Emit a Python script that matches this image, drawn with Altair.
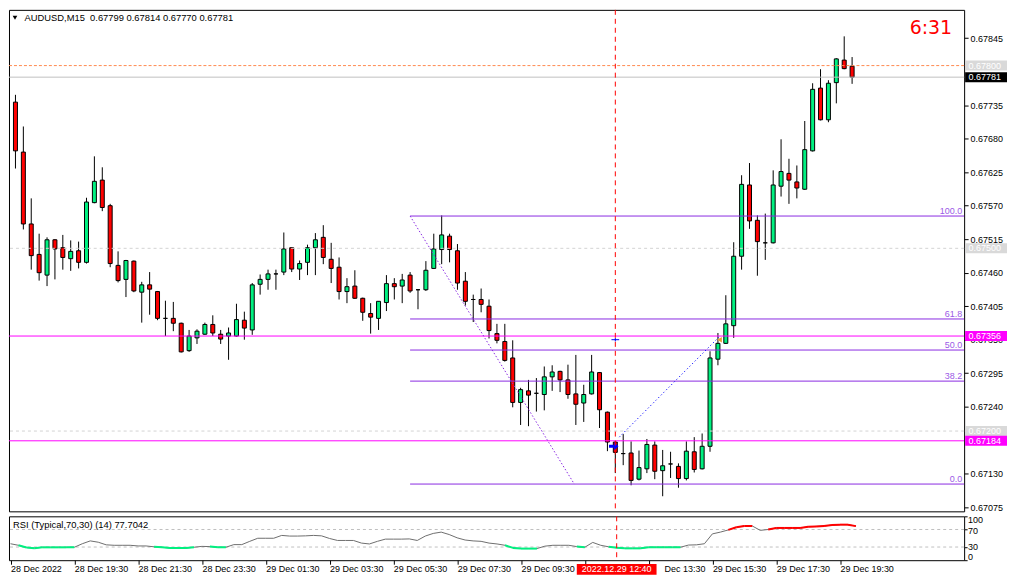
import json
import altair as alt
import pandas as pd

# ---------------- data ----------------
symbol = "AUDUSD,M15"
timer_text = "6:31"
rsi_title = "RSI (Typical,70,30) (14) 77.7042"
cursor_label = "2022.12.29 12:40"

opens = [0.67740, 0.67658, 0.67540, 0.67490, 0.67456, 0.67514, 0.67501, 0.67483, 0.67496, 0.67477,
         0.67575, 0.67612, 0.67570, 0.67472, 0.67449, 0.67479, 0.67428, 0.67440, 0.67429, 0.67385,
         0.67385, 0.67377, 0.67332, 0.67353, 0.67359, 0.67375, 0.67359, 0.67356, 0.67356, 0.67382,
         0.67366, 0.67441, 0.67449, 0.67458, 0.67461, 0.67501, 0.67466, 0.67477, 0.67501, 0.67518,
         0.67482, 0.67469, 0.67429, 0.67438, 0.67418, 0.67393, 0.67385, 0.67411, 0.67442, 0.67438,
         0.67456, 0.67432, 0.67432, 0.67467, 0.67498, 0.67520, 0.67496, 0.67446, 0.67416, 0.67416,
         0.67405, 0.67360, 0.67347, 0.67320, 0.67247, 0.67266, 0.67262, 0.67260, 0.67289, 0.67298,
         0.67284, 0.67261, 0.67246, 0.67261, 0.67296, 0.67231, 0.67182, 0.67163, 0.67164, 0.67121,
         0.67138, 0.67177, 0.67135, 0.67146, 0.67142, 0.67122, 0.67166, 0.67138, 0.67175, 0.67318,
         0.67344, 0.67373, 0.67487, 0.67604, 0.67546, 0.67509, 0.67509, 0.67602, 0.67623, 0.67609,
         0.67597, 0.67660, 0.67763, 0.67711, 0.67772, 0.67809, 0.67799]
highs = [0.67752, 0.67700, 0.67582, 0.67524, 0.67518, 0.67515, 0.67522, 0.67513, 0.67511, 0.67583,
         0.67651, 0.67633, 0.67573, 0.67495, 0.67481, 0.67480, 0.67445, 0.67461, 0.67430, 0.67414,
         0.67412, 0.67378, 0.67366, 0.67367, 0.67378, 0.67390, 0.67366, 0.67370, 0.67409, 0.67396,
         0.67443, 0.67457, 0.67465, 0.67465, 0.67526, 0.67502, 0.67480, 0.67506, 0.67525, 0.67538,
         0.67509, 0.67485, 0.67451, 0.67464, 0.67419, 0.67410, 0.67413, 0.67456, 0.67451, 0.67458,
         0.67461, 0.67433, 0.67479, 0.67524, 0.67554, 0.67524, 0.67507, 0.67461, 0.67424, 0.67434,
         0.67416, 0.67376, 0.67376, 0.67349, 0.67271, 0.67284, 0.67287, 0.67306, 0.67308, 0.67299,
         0.67309, 0.67325, 0.67276, 0.67325, 0.67297, 0.67232, 0.67183, 0.67195, 0.67183, 0.67168,
         0.67187, 0.67183, 0.67169, 0.67166, 0.67147, 0.67183, 0.67190, 0.67196, 0.67331, 0.67361,
         0.67423, 0.67510, 0.67620, 0.67640, 0.67554, 0.67557, 0.67628, 0.67679, 0.67647, 0.67636,
         0.67709, 0.67771, 0.67794, 0.67776, 0.67812, 0.67848, 0.67814]
lows = [0.67631, 0.67531, 0.67465, 0.67447, 0.67438, 0.67449, 0.67465, 0.67463, 0.67467, 0.67475,
        0.67574, 0.67561, 0.67469, 0.67444, 0.67420, 0.67428, 0.67378, 0.67391, 0.67382, 0.67356,
        0.67364, 0.67329, 0.67330, 0.67343, 0.67358, 0.67356, 0.67343, 0.67317, 0.67355, 0.67350,
        0.67358, 0.67424, 0.67432, 0.67432, 0.67456, 0.67461, 0.67448, 0.67456, 0.67456, 0.67474,
        0.67443, 0.67416, 0.67410, 0.67417, 0.67381, 0.67360, 0.67366, 0.67397, 0.67416, 0.67410,
        0.67427, 0.67400, 0.67430, 0.67466, 0.67474, 0.67477, 0.67432, 0.67406, 0.67379, 0.67395,
        0.67352, 0.67344, 0.67314, 0.67239, 0.67210, 0.67208, 0.67232, 0.67234, 0.67266, 0.67264,
        0.67253, 0.67210, 0.67215, 0.67260, 0.67205, 0.67167, 0.67131, 0.67144, 0.67111, 0.67119,
        0.67131, 0.67121, 0.67093, 0.67123, 0.67107, 0.67119, 0.67132, 0.67137, 0.67166, 0.67308,
        0.67343, 0.67353, 0.67465, 0.67532, 0.67455, 0.67481, 0.67508, 0.67585, 0.67573, 0.67582,
        0.67596, 0.67659, 0.67710, 0.67707, 0.67738, 0.67794, 0.67770]
closes = [0.67660, 0.67540, 0.67488, 0.67460, 0.67514, 0.67499, 0.67485, 0.67495, 0.67477, 0.67576,
          0.67610, 0.67567, 0.67475, 0.67447, 0.67480, 0.67430, 0.67440, 0.67433, 0.67385, 0.67385,
          0.67377, 0.67330, 0.67356, 0.67364, 0.67375, 0.67361, 0.67351, 0.67361, 0.67383, 0.67369,
          0.67440, 0.67449, 0.67458, 0.67458, 0.67499, 0.67466, 0.67475, 0.67501, 0.67514, 0.67485,
          0.67467, 0.67429, 0.67437, 0.67418, 0.67395, 0.67387, 0.67413, 0.67442, 0.67437, 0.67448,
          0.67430, 0.67432, 0.67464, 0.67499, 0.67522, 0.67498, 0.67443, 0.67413, 0.67416, 0.67408,
          0.67365, 0.67349, 0.67316, 0.67247, 0.67268, 0.67259, 0.67262, 0.67289, 0.67297, 0.67284,
          0.67260, 0.67244, 0.67260, 0.67297, 0.67235, 0.67182, 0.67165, 0.67163, 0.67119, 0.67140,
          0.67178, 0.67134, 0.67143, 0.67146, 0.67122, 0.67167, 0.67137, 0.67175, 0.67320, 0.67344,
          0.67376, 0.67487, 0.67605, 0.67545, 0.67511, 0.67509, 0.67604, 0.67626, 0.67612, 0.67599,
          0.67662, 0.67761, 0.67711, 0.67771, 0.67811, 0.67795, 0.67781]

rsi_values = [37.5, 34, 29, 27.5, 29.3, 29.3, 29.3, 29.3, 29.5, 37.5,
              44, 41, 35, 34, 34, 34, 32.5, 32.5, 30.5, 29.5,
              27.8, 27.8, 27.8, 29.5, 31.5, 31, 29.5, 29.5, 35.5, 35.5,
              43, 50, 50, 50, 56.5, 55, 55, 55.5, 56.5, 55.5,
              49.5, 45, 45, 45, 39, 37, 43, 48, 48, 48,
              48.5, 45, 55, 61, 64, 58.5, 51, 46, 44, 43,
              39, 37, 34, 28, 26.5, 26.5, 26.5, 32, 34, 34,
              34, 31, 29.5, 40.5, 34, 30.5, 28.5, 27, 27, 27,
              29.5, 29.5, 29.5, 29.5, 29.5, 34.5, 35, 37.5, 60, 64,
              69, 75, 78, 78, 68, 70, 73.5, 73.5, 73.5, 73.5,
              76, 77, 78, 80, 81, 81, 77.7042]

# time labels as visible (the 11:30 one is hidden by the cursor box, 13:30 is partly hidden)
time_labels = ["28 Dec 2022", "28 Dec 19:30", "28 Dec 21:30", "28 Dec 23:30", "29 Dec 01:30",
               "29 Dec 03:30", "29 Dec 05:30", "29 Dec 07:30", "29 Dec 09:30", "",
               "", "29 Dec 15:30", "29 Dec 17:30", "29 Dec 19:30"]
partial_label = "Dec 13:30"
partial_label_bar = 80
price_ticks = [0.67075, 0.67130, 0.67240, 0.67295, 0.67350, 0.67405, 0.67460,
               0.67515, 0.67570, 0.67625, 0.67680, 0.67735, 0.67845]
rsi_ticks = [0, 30, 70, 100]

level_prices = [0.67800, 0.67781, 0.67500, 0.67200, 0.67356, 0.67184]
level_styles = ["ask", "bid", "grid", "grid", "mag", "mag"]
box_colors = ["#D9D9D9", "#000000", "#D9D9D9", "#D9D9D9", "#FF00FF", "#FF00FF"]

fib_levels = [100.0, 61.8, 50.0, 38.2, 0.0]
fib_prices = [0.67553, 0.67384, 0.67333, 0.67282, 0.67113]
fib_start = 50
fib_diag_x = [50, 70.8]
fib_diag_p = [0.67553, 0.67113]
trend_x = [76.5, 89.1]
trend_p = [0.67190, 0.67354]
cursor_bar = 76
arrow_bar, arrow_price = 75.8, 0.67175
stop_bar, stop_price = 76, 0.67350
tri_bar, tri_price = 89.2, 0.67350

# ---------------- layout / style ----------------
n = len(opens)
W, H, RH = 958, 503, 44
FONT = "Liberation Sans"
GREEN = "#00F080"
RED = "#FF0000"
FIB = "#8A2BE2"

xs = alt.Scale(domain=[-0.1875, (W - 1.5) / 8], nice=False, zero=False)
ys = alt.Scale(domain=[0.670682, 0.678915], nice=False, zero=False)
rs = alt.Scale(domain=[0, 100], nice=False, zero=False)

price_axis = alt.Axis(orient="right", values=price_ticks, format=".5f", tickSize=4,
                      tickColor="black", labelPadding=2, labelFont=FONT, labelFontSize=9,
                      labelColor="black", domain=False, grid=False, title=None,
                      labelOverlap=False)
time_axis = alt.Axis(orient="bottom", values=list(range(0, n, 8)),
                     labelExpr=json.dumps(time_labels) + "[round(datum.value / 8)]",
                     labelAlign="left", labelBaseline="top", tickSize=4, tickColor="black",
                     labelPadding=0, labelFont=FONT, labelFontSize=9, labelColor="black",
                     domain=False, grid=False, title=None, labelOverlap=False, labelFlush=False)
rsi_axis = alt.Axis(orient="right", values=rsi_ticks, labels=False, tickSize=3,
                    tickColor="black", domain=False, grid=False, title=None)


def X(field="i"):
    return alt.X(f"{field}:Q", scale=xs, axis=None)


def Y(field="p"):
    return alt.Y(f"{field}:Q", scale=ys, axis=price_axis)


def XR(field="i"):
    return alt.X(f"{field}:Q", scale=xs, axis=time_axis)


def YR(field="v"):
    return alt.Y(f"{field}:Q", scale=rs, axis=rsi_axis)


def txt(text, x, y, **kw):
    return alt.Chart(pd.DataFrame({"t": [text]})).mark_text(**kw).encode(
        x=alt.value(x), y=alt.value(y), text="t:N")


cand = pd.DataFrame({"i": list(range(n)), "o": opens, "h": highs, "l": lows, "c": closes})
cand["dir"] = ["up" if c > o else ("down" if c < o else "flat") for o, c in zip(opens, closes)]

wicks = alt.Chart(cand).mark_rule(color="black", strokeWidth=1, clip=True).encode(
    x=X(), y=Y("l"), y2="h:Q")
bodies = alt.Chart(cand).mark_bar(size=4, stroke="black", strokeWidth=1, clip=True).encode(
    x=X(), y=Y("o"), y2="c:Q",
    color=alt.Color("dir:N", scale=alt.Scale(domain=["up", "down", "flat"],
                                             range=[GREEN, RED, "black"]), legend=None))

lv = pd.DataFrame({"p": level_prices, "style": level_styles, "box": box_colors})
ask_line = alt.Chart(lv).transform_filter(alt.datum.style == "ask").mark_rule(
    color="#FF8A50", strokeWidth=1, strokeDash=[3, 2]).encode(y=Y())
bid_line = alt.Chart(lv).transform_filter(alt.datum.style == "bid").mark_rule(
    color="#C0C0C0", strokeWidth=1).encode(y=Y())
grid_line = alt.Chart(lv).transform_filter(alt.datum.style == "grid").mark_rule(
    color="#D3D3D3", strokeWidth=1, strokeDash=[3, 3]).encode(y=Y())
mag_line = alt.Chart(lv).transform_filter(alt.datum.style == "mag").mark_rule(
    color="#FF00FF", strokeWidth=1).encode(y=Y())

fib = pd.DataFrame({"lvl": fib_levels, "p": fib_prices, "x0": [fib_start] * len(fib_levels)})
fib_lines = alt.Chart(fib).mark_rule(color=FIB, strokeWidth=1).encode(
    x=X("x0"), x2=alt.value(W), y=Y())
fib_text = alt.Chart(fib).mark_text(align="right", baseline="alphabetic", dy=-2, font=FONT,
                                    fontSize=9, color="#9B59E6").encode(
    x=alt.value(W - 2), y=Y(), text=alt.Text("lvl:Q", format=".1f"))
diag_line = alt.Chart(pd.DataFrame({"i": fib_diag_x, "p": fib_diag_p})).mark_line(
    color=FIB, strokeWidth=1, strokeDash=[1.5, 2]).encode(x=X(), y=Y())
trend_line = alt.Chart(pd.DataFrame({"i": trend_x, "p": trend_p})).mark_line(
    color="#0000FF", strokeWidth=1, strokeDash=[1.2, 2.5]).encode(x=X(), y=Y())

ARROW = "M-1,-0.3L0.1,-0.3L0.1,-0.9L1,0L0.1,0.9L0.1,0.3L-1,0.3Z"
arrow = alt.Chart(pd.DataFrame({"i": [arrow_bar], "p": [arrow_price]})).mark_point(
    shape=ARROW, size=90, filled=True, color="#0000FF", opacity=1, strokeWidth=0).encode(
    x=X(), y=Y())
stop_mark = alt.Chart(pd.DataFrame({"i": [stop_bar], "p": [stop_price]})).mark_point(
    shape="M-1,0L1,0M0,-0.45L0,0.45", size=60, filled=False, color="#0000FF", opacity=1,
    strokeWidth=1).encode(x=X(), y=Y())
tri_mark = alt.Chart(pd.DataFrame({"i": [tri_bar], "p": [tri_price]})).mark_point(
    shape="triangle-left", size=30, filled=True, color="#F0A030", opacity=1).encode(
    x=X(), y=Y())

cursor_main = alt.Chart(pd.DataFrame({"i": [cursor_bar]})).mark_rule(
    color=RED, strokeWidth=1, strokeDash=[5, 4]).encode(x=X())

BOX = "M-1,-0.238L1,-0.238L1,0.238L-1,0.238Z"
boxes = alt.Chart(lv).mark_point(shape=BOX, size=42 * 42, filled=True, opacity=1,
                                 strokeWidth=0).encode(
    x=alt.value(W + 22), y=Y(), color=alt.Color("box:N", scale=None))
box_text = alt.Chart(lv).mark_text(align="left", baseline="middle", font=FONT, fontSize=9,
                                   color="white").encode(
    x=alt.value(W + 4.5), y=Y(), text=alt.Text("p:Q", format=".5f"))

title_tri = alt.Chart(pd.DataFrame({"t": [0]})).mark_point(
    shape="triangle-down", size=22, filled=True, color="black", opacity=1).encode(
    x=alt.value(6), y=alt.value(8))
title_str = f"{symbol}\u00a0 {opens[-1]:.5f} {highs[-1]:.5f} {lows[-1]:.5f} {closes[-1]:.5f}"
title_text = txt(title_str, 15.6, 11, align="left", baseline="alphabetic", font=FONT,
                 fontSize=9.4, color="black")
timer = txt(timer_text, W - 12, 24.3, align="right", baseline="alphabetic",
            font="DejaVu Sans", fontSize=19, color=RED)

main = alt.layer(
    wicks, bodies, grid_line, ask_line, bid_line, mag_line,
    fib_lines, fib_text, diag_line, trend_line, arrow, stop_mark, tri_mark,
    cursor_main, boxes, box_text, title_tri, title_text, timer
).properties(width=W, height=H)

# ---------------- RSI panel ----------------
rdf = pd.DataFrame({"i": list(range(n)), "v": rsi_values})
rows = []
for k in range(1, n):
    a, b = rsi_values[k - 1], rsi_values[k]
    zone = "lo" if b < 30 else ("hi" if b > 70 else None)
    if zone:
        rows.append({"i": k - 1, "i2": k, "v": a, "v2": b, "zone": zone})
seg = pd.DataFrame(rows)

rsi_levels = alt.Chart(pd.DataFrame({"v": [70, 30]})).mark_rule(
    color="#C0C0C0", strokeWidth=1, strokeDash=[3, 3]).encode(y=YR())
rsi_line = alt.Chart(rdf).mark_line(color="#6E6E6E", strokeWidth=1).encode(x=XR(), y=YR())
rsi_seg = alt.Chart(seg).mark_rule(strokeWidth=2).encode(
    x=XR(), x2="i2:Q", y=YR(), y2="v2:Q",
    color=alt.Color("zone:N", scale=alt.Scale(domain=["lo", "hi"], range=["#32CD32", RED]),
                    legend=None))
cursor_rsi = alt.Chart(pd.DataFrame({"i": [cursor_bar]})).mark_rule(
    color=RED, strokeWidth=1, strokeDash=[5, 4]).encode(x=XR())
rsi_name = txt(rsi_title, 4, 11.5, align="left", baseline="alphabetic", font=FONT,
               fontSize=9.4, color="black")

rsi_lab_layers = []
for val, dy in zip(rsi_ticks, [-3.5, 0, 1.5, 4]):
    rsi_lab_layers.append(
        alt.Chart(pd.DataFrame({"v": [val]})).mark_text(
            align="left", baseline="middle", dy=dy, font=FONT, fontSize=9, color="black"
        ).encode(x=alt.value(W + 4), y=YR(), text="v:N"))

TB = "M-1,-0.1375L1,-0.1375L1,0.1375L-1,0.1375Z"
tb = pd.DataFrame({"i": [cursor_bar], "t": [cursor_label]})
time_box = alt.Chart(tb).mark_point(shape=TB, size=6400, filled=True, color=RED, opacity=1,
                                    strokeWidth=0).encode(x=XR(), y=alt.value(RH + 9.2))
time_txt = alt.Chart(tb).mark_text(align="center", baseline="alphabetic", font=FONT,
                                   fontSize=9, color="white").encode(
    x=XR(), y=alt.value(RH + 12), text="t:N")
part_txt = alt.Chart(pd.DataFrame({"i": [partial_label_bar], "t": [partial_label]})).mark_text(
    align="left", baseline="alphabetic", dx=16, font=FONT, fontSize=9, color="black").encode(
    x=XR(), y=alt.value(RH + 12), text="t:N")

rsi_chart = alt.layer(
    rsi_levels, rsi_line, rsi_seg, cursor_rsi, rsi_name, *rsi_lab_layers,
    part_txt, time_box, time_txt
).properties(width=W, height=RH)

chart = alt.vconcat(main, rsi_chart, spacing=2).resolve_scale(
    x="independent", y="independent"
).properties(padding=0, background="white").configure_view(stroke="black", strokeWidth=1)

chart.save("out.html", embed_options={"renderer": "svg", "actions": False})
